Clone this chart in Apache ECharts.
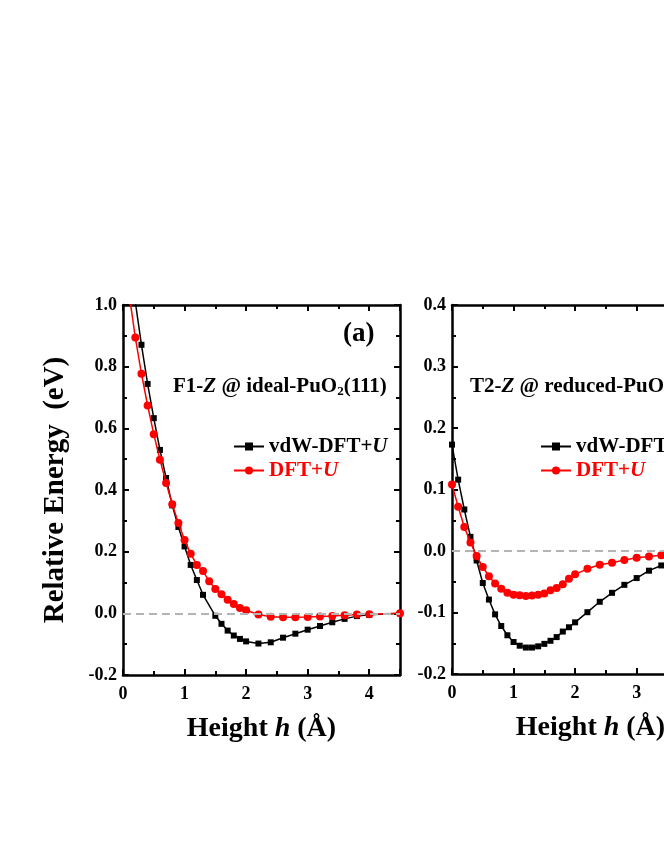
<!DOCTYPE html>
<html>
<head>
<meta charset="utf-8">
<script src="https://cdn.jsdelivr.net/npm/echarts@6/dist/echarts.min.js"></script>
<style>
html, body { margin: 0; padding: 0; background: #fff; overflow: hidden; }
/* the right panel runs past the window edge, as in the original figure */
#main { width: 740px; height: 860px; }
</style>
</head>
<body>
<div id="main"></div>
<script>
// panel (a): F1-Z @ ideal-PuO2(111)
var heightA_vdw = [0.2, 0.3, 0.4, 0.5, 0.6, 0.7, 0.8, 0.9, 1.0, 1.1, 1.2, 1.3, 1.5, 1.6, 1.7, 1.8, 1.9, 2.0,
    2.2, 2.4, 2.6, 2.8, 3.0, 3.2, 3.4, 3.6, 3.8, 4.0, 4.5];
var energyA_vdw = [1.01, 0.871, 0.744, 0.633, 0.530, 0.439, 0.350, 0.280, 0.217, 0.157, 0.108, 0.060, -0.008, -0.034, -0.056, -0.072, -0.083, -0.091,
    -0.098, -0.094, -0.079, -0.066, -0.053, -0.041, -0.029, -0.018, -0.009, -0.005, 0.0];
var heightA_dft = [0.1, 0.2, 0.3, 0.4, 0.5, 0.6, 0.7, 0.8, 0.9, 1.0, 1.1, 1.2, 1.3, 1.4, 1.5, 1.6, 1.7, 1.8, 1.9, 2.0,
    2.2, 2.4, 2.6, 2.8, 3.0, 3.2, 3.4, 3.6, 3.8, 4.0, 4.5];
var energyA_dft = [1.035, 0.895, 0.777, 0.674, 0.581, 0.498, 0.423, 0.354, 0.293, 0.238, 0.193, 0.157, 0.137, 0.104, 0.079, 0.062, 0.044, 0.030, 0.017, 0.010,
    -0.004, -0.011, -0.013, -0.013, -0.012, -0.010, -0.009, -0.006, -0.004, -0.003, 0.0];

// panel (b): T2-Z @ reduced-PuO2(111)
var heightB = [0.0, 0.1, 0.2, 0.3, 0.4, 0.5, 0.6, 0.7, 0.8, 0.9, 1.0, 1.1, 1.2, 1.3, 1.4, 1.5, 1.6, 1.7, 1.8, 1.9, 2.0,
    2.2, 2.4, 2.6, 2.8, 3.0, 3.2, 3.4, 3.6];
var energyB_vdw = [0.173, 0.116, 0.0675, 0.023, -0.0155, -0.052, -0.079, -0.103, -0.122, -0.137, -0.148, -0.154, -0.157, -0.157, -0.155, -0.151, -0.146, -0.140, -0.131, -0.124, -0.116,
    -0.0995, -0.0826, -0.068, -0.055, -0.044, -0.032, -0.0235, -0.016];
var energyB_dft = [0.108, 0.072, 0.039, 0.014, -0.008, -0.026, -0.041, -0.053, -0.0615, -0.068, -0.071, -0.072, -0.073, -0.0725, -0.071, -0.069, -0.064, -0.060, -0.054, -0.045, -0.038,
    -0.029, -0.0225, -0.019, -0.0145, -0.011, -0.009, -0.007, -0.005];

var serif = '"Liberation Serif", "Times New Roman", serif';

function pairs(xs, ys) {
    var out = [];
    for (var i = 0; i < xs.length; i++) {
        out.push([xs[i], ys[i]]);
    }
    return out;
}

function xAxisOf(grid, pos, withLabel) {
    return {
        type: 'value', gridIndex: grid, position: pos,
        min: 0, max: 4.5, interval: 1,
        axisLine: { show: true, onZero: false, lineStyle: { color: '#000', width: 2.5 } },
        axisTick: { show: true, inside: true, length: 6, lineStyle: { color: '#000', width: 2 } },
        minorTick: { show: true, splitNumber: 2, length: 4, lineStyle: { color: '#000', width: 2 } },
        splitLine: { show: false },
        axisLabel: {
            show: withLabel, margin: 10, color: '#000',
            fontFamily: serif, fontWeight: 'bold', fontSize: 18,
            formatter: function (v) { return v <= 4 ? String(v) : ''; }
        },
        name: withLabel ? '{n|Height }{i|h}{n| (Å)}' : '',
        nameLocation: 'middle',
        nameGap: 40,
        nameTextStyle: {
            rich: {
                n: { fontFamily: serif, fontWeight: 'bold', fontSize: 28, color: '#000' },
                i: { fontFamily: serif, fontWeight: 'bold', fontStyle: 'italic', fontSize: 28, color: '#000' }
            }
        }
    };
}

function yAxisOf(grid, pos, withLabel, min, max, step, name) {
    return {
        type: 'value', gridIndex: grid, position: pos,
        min: min, max: max, interval: step,
        axisLine: { show: true, onZero: false, lineStyle: { color: '#000', width: 2.5 } },
        axisTick: { show: true, inside: true, length: 6, lineStyle: { color: '#000', width: 2 } },
        minorTick: { show: true, splitNumber: 2, length: 4, lineStyle: { color: '#000', width: 2 } },
        splitLine: { show: false },
        axisLabel: {
            show: withLabel, margin: 6, color: '#000',
            fontFamily: serif, fontWeight: 'bold', fontSize: 18,
            formatter: function (v) { return v.toFixed(1); }
        },
        name: name || '',
        nameLocation: 'middle',
        nameRotate: 90,
        nameGap: 53,
        nameTextStyle: { fontFamily: serif, fontWeight: 'bold', fontSize: 29, color: '#000' }
    };
}

function seriesOf(name, grid, data, color, symbol, size, withZeroLine) {
    var s = {
        name: name, type: 'line',
        xAxisIndex: grid * 2, yAxisIndex: grid * 2,
        data: data,
        symbol: symbol, symbolSize: size,
        showAllSymbol: true,
        clip: true,
        lineStyle: { color: color, width: 1.5 },
        itemStyle: { color: color },
        animation: false
    };
    if (withZeroLine) {
        s.markLine = {
            silent: true, symbol: 'none', animation: false,
            label: { show: false },
            lineStyle: { color: '#b4b4b4', type: [8, 5], width: 2 },
            data: [{ yAxis: 0 }]
        };
        s.z = 1;
    }
    return s;
}

var legendRich = {
    k: { fontFamily: serif, fontWeight: 'bold', fontSize: 21, color: '#000' },
    ki: { fontFamily: serif, fontWeight: 'bold', fontStyle: 'italic', fontSize: 21, color: '#000' },
    r: { fontFamily: serif, fontWeight: 'bold', fontSize: 21, color: '#ff0000' },
    ri: { fontFamily: serif, fontWeight: 'bold', fontStyle: 'italic', fontSize: 21, color: '#ff0000' }
};
function legendOf(left) {
    return {
        orient: 'vertical', left: left, top: 431,
        itemWidth: 30, itemHeight: 10, itemGap: 3,
        data: ['vdW-DFT+U', 'DFT+U'],
        formatter: function (name) {
            return name === 'DFT+U' ? '{r|DFT+}{ri|U}' : '{k|vdW-DFT+}{ki|U}';
        },
        textStyle: { rich: legendRich },
        selectedMode: false
    };
}

var titleRich = {
    n: { fontFamily: serif, fontWeight: 'bold', fontSize: 21, color: '#000' },
    i: { fontFamily: serif, fontWeight: 'bold', fontStyle: 'italic', fontSize: 21, color: '#000' },
    s: { fontFamily: serif, fontWeight: 'bold', fontSize: 13, color: '#000', verticalAlign: 'bottom', padding: [10, 0, 0, 0] }
};

var chart = echarts.init(document.getElementById('main'));
chart.setOption({
    backgroundColor: '#fff',
    animation: false,
    title: [
        { text: '(a)', left: 338, top: 316,
          textStyle: { fontFamily: serif, fontWeight: 'bold', fontSize: 27, color: '#000' } },
        { text: '{n|F1-}{i|Z}{n| @ ideal-PuO}{s|2}{n|(111)}', left: 168, top: 370, textStyle: { rich: titleRich } },
        { text: '{n|T2-}{i|Z}{n| @ reduced-PuO}{s|2}{n|(111)}', left: 465, top: 370, textStyle: { rich: titleRich } }
    ],
    legend: [legendOf(228), legendOf(535)],
    grid: [
        { left: 123, top: 305, width: 277, height: 370 },
        { left: 452, top: 305, width: 277, height: 369 }
    ],
    xAxis: [
        xAxisOf(0, 'bottom', true), xAxisOf(0, 'top', false),
        xAxisOf(1, 'bottom', true), xAxisOf(1, 'top', false)
    ],
    yAxis: [
        yAxisOf(0, 'left', true, -0.2, 1.0, 0.2, 'Relative Energy  (eV)'), yAxisOf(0, 'right', false, -0.2, 1.0, 0.2),
        yAxisOf(1, 'left', true, -0.2, 0.4, 0.1), yAxisOf(1, 'right', false, -0.2, 0.4, 0.1)
    ],
    series: [
        seriesOf('vdW-DFT+U', 0, pairs(heightA_vdw, energyA_vdw), '#000', 'rect', 6, true),
        seriesOf('DFT+U', 0, pairs(heightA_dft, energyA_dft), '#ff0000', 'circle', 8, false),
        seriesOf('vdW-DFT+U', 1, pairs(heightB, energyB_vdw), '#000', 'rect', 6, true),
        seriesOf('DFT+U', 1, pairs(heightB, energyB_dft), '#ff0000', 'circle', 8, false)
    ]
});
</script>
</body>
</html>
